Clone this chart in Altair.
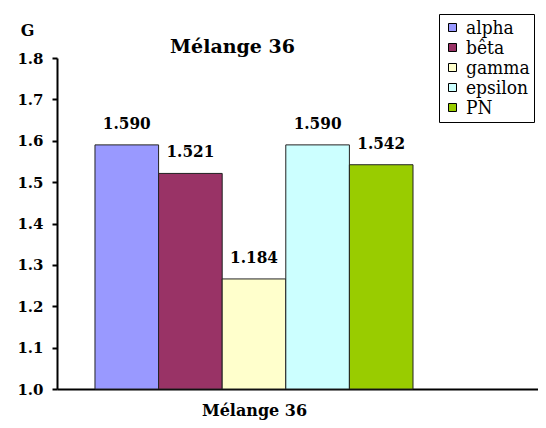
import altair as alt
import pandas as pd

names = ["alpha", "bêta", "gamma", "epsilon", "PN"]
values = [1.590, 1.521, 1.266, 1.590, 1.542]
labels = ["1.590", "1.521", "1.184", "1.590", "1.542"]
colors = ["#9999FF", "#993366", "#FFFFCC", "#CCFFFF", "#99CC00"]
y_ticks = [1.0, 1.1, 1.2, 1.3, 1.4, 1.5, 1.6, 1.7, 1.8]

df = pd.DataFrame({"name": names, "value": values, "label": labels,
                   "idx": list(range(len(names)))})

FONT = "DejaVu Serif"
FONT_COND = "DejaVu Serif Condensed, DejaVu Serif"

x_scale = alt.Scale(domain=[-0.597, 6.965], nice=False, zero=False)

x_axis = alt.Axis(
    labels=False, ticks=False, grid=False, domain=True, domainColor="black", domainWidth=2,
    title="Mélange 36", titleFont=FONT, titleFontSize=16, titleFontWeight="bold",
    titleX=197, titleY=21, titleAlign="center", titleBaseline="middle",
    titleColor="black",
)

y_enc = alt.Y(
    "value:Q",
    scale=alt.Scale(domain=[1.0, 1.8], zero=False, nice=False),
    axis=alt.Axis(
        values=y_ticks, format=".1f", grid=False,
        labelFont=FONT, labelFontSize=15, labelFontWeight="bold", labelColor="black",
        labelPadding=9, tickSize=5, tickWidth=2, tickColor="black",
        domainColor="black", domainWidth=2,
        title="G", titleAngle=0, titleX=-30, titleY=-28, titleAlign="center",
        titleBaseline="middle", titleFont=FONT, titleFontSize=16,
        titleFontWeight="bold", titleColor="black",
    ),
)

base = alt.Chart(df).transform_calculate(
    x1="datum.idx", x2="datum.idx + 1", xc="datum.idx + 0.5"
)

bars = base.mark_bar(stroke="#222222", strokeWidth=1).encode(
    x=alt.X("x1:Q", scale=x_scale, axis=x_axis),
    x2="x2:Q",
    y=y_enc,
    y2=alt.datum(1.0),
    color=alt.Color(
        "name:N",
        sort=names,
        scale=alt.Scale(domain=names, range=colors),
        legend=alt.Legend(
            title=None,
            orient="none", legendX=382, legendY=-44,
            labelFont=FONT_COND, labelFontSize=19, labelColor="black",
            symbolType="square", symbolSize=64, symbolStrokeColor="black",
            symbolStrokeWidth=1, labelOffset=4, rowPadding=0, padding=4,
            strokeColor="black", fillColor="white",
        ),
    ),
)

text = base.mark_text(
    dy=-21, font=FONT_COND, fontSize=17, fontWeight="bold", color="black", baseline="middle"
).encode(
    x=alt.X("xc:Q", scale=x_scale),
    y=alt.Y("value:Q"),
    text="label:N",
)

chart = alt.layer(bars, text).properties(
    width=481,
    height=331,
    padding={"left": 49, "top": 50, "right": 0, "bottom": 31},
    autosize=alt.AutoSizeParams(type="none"),
    title=alt.TitleParams(
        "Mélange 36", font=FONT, fontSize=19, fontWeight="bold", color="black",
        anchor="middle", frame="group", dx=-65, dy=46, offset=3,
    ),
).configure_view(stroke=None)

chart.save("out.html", embed_options={"renderer": "svg", "actions": False})
